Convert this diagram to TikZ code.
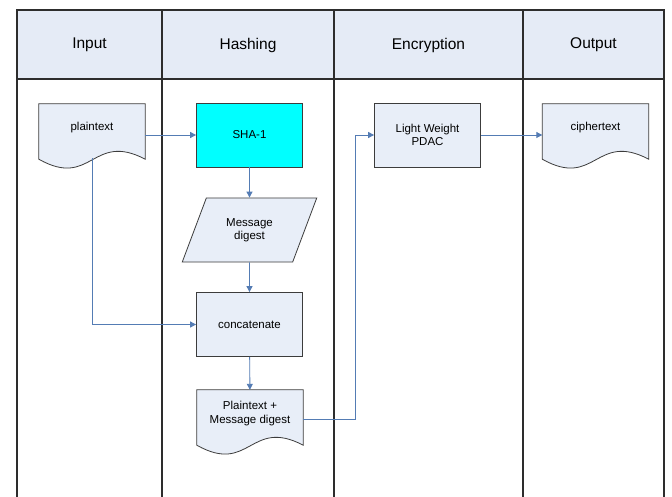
\documentclass[tikz,border=0pt]{standalone}
\usepackage{fontspec}
\setmainfont{Liberation Sans}
\definecolor{LaneHead}{RGB}{229,235,246}
\definecolor{BoxFill}{RGB}{232,238,248}
\definecolor{BoxLine}{RGB}{60,60,60}
\definecolor{HashCyan}{RGB}{0,255,255}
\definecolor{FlowBlue}{RGB}{84,124,180}
\definecolor{LaneLine}{RGB}{45,45,45}
\usetikzlibrary{shapes.geometric, arrows.meta, calc, backgrounds}

% document symbol: body node plus wavy bottom edge
\newcommand{\docshape}[1]{%
  \filldraw[fill=BoxFill, draw=BoxLine, line width=0.8pt]
    (#1.north west) -- (#1.north east) -- ($(#1.south east)+(0,8)$)
    .. controls ($(#1.south)+(0,-20)$) and ($(#1.south)+(0,38)$) ..
    ($(#1.south west)+(0,8)$) -- cycle;}

\begin{document}
\begin{tikzpicture}[
        x=1pt, y=-1pt,
        box/.style={rectangle, draw=BoxLine, fill=BoxFill, line width=0.8pt, minimum width=106pt, minimum height=64pt, align=center, font=\fontsize{11.5}{13.5}\selectfont},
        docbody/.style={rectangle, minimum width=106pt, minimum height=47pt, align=center, font=\fontsize{11.5}{13.5}\selectfont},
        databox/.style={trapezium, trapezium left angle=64, trapezium right angle=116, trapezium stretches=true, draw=BoxLine, fill=BoxFill, line width=0.8pt, minimum width=135pt, minimum height=64pt, align=center, font=\fontsize{11.5}{13.5}\selectfont},
        head/.style={font=\fontsize{15.5}{18}\selectfont},
        lane/.style={LaneLine, line width=1.2pt},
        arrow/.style={-{Triangle[length=6pt, width=6pt]}, FlowBlue, line width=0.9pt}
    ]
        \useasboundingbox (0,0) rectangle (672,497);
        \begin{scope}[on background layer]
            \fill[white] (0,0) rectangle (672,497);
        \end{scope}

        % Swimlanes
        \fill[LaneHead] (17,10) rectangle (664,79);
        \draw[lane] (17,497) -- (17,10) -- (664,10) -- (664,497);
        \draw[lane] (17,79) -- (664,79);
        \foreach \x in {162, 334, 523} {
            \draw[lane] (\x,10) -- (\x,497);
        }
        \foreach \name/\x in {Input/89.5, Hashing/248, Encryption/428.5, Output/593.5} {
            \node[head] (h\name) at (\x,45) {\name};
        }

        % Input lane
        \node[docbody] (plain) at (92,127.5) {plaintext};

        % Hashing lane
        \node[box, fill=HashCyan] (sha) at (249.5,135) {SHA-1};
        \node[databox] (digest) at (249.5,230) {Message\\digest};
        \node[box] (concat) at (249.5,324.5) {concatenate};
        \node[docbody] (pmd) at (250,413.5) {Plaintext +\\Message digest};

        % Encryption lane
        \node[box] (pdac) at (427.5,135) {Light Weight\\PDAC};

        % Output lane
        \node[docbody] (cipher) at (595.5,127.5) {ciphertext};

        % Document outlines behind the texts
        \begin{scope}[on background layer]
            \foreach \d in {plain, pmd, cipher} {
                \docshape{\d}
            }
        \end{scope}

        % Connections
        \draw[arrow] (plain.east |- sha.west) -- (sha.west);
        \draw[arrow] (sha) -- (digest);
        \draw[arrow] (digest) -- (concat);
        \draw[arrow] (concat) -- (pmd);
        \draw[arrow] ([yshift=-7pt]plain.south) |- (concat.west);
        \draw[arrow] ([yshift=-6pt]pmd.east) -- ++(52,0) |- (pdac.west);
        \draw[arrow] (pdac) -- (pdac -| cipher.west);
    \end{tikzpicture}
\end{document}
